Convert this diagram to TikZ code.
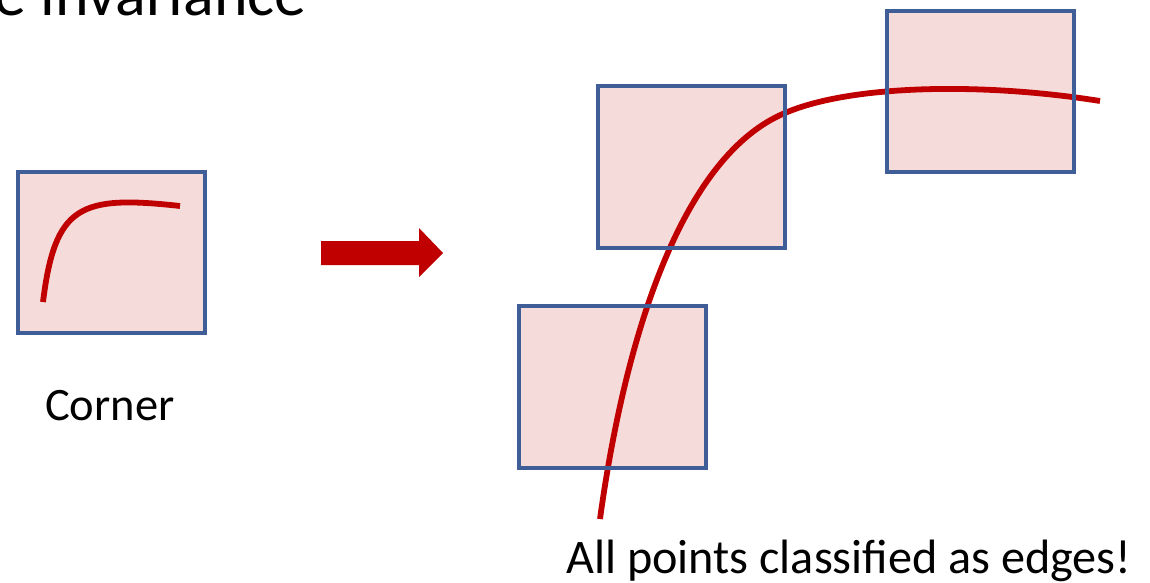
\documentclass[tikz,border=0pt]{standalone}
\usepackage{fontspec}
\setmainfont{Carlito}
\begin{document}
\begin{tikzpicture}[x=1pt,y=-1pt,
  winfill/.style={fill=winpink},
  winedge/.style={draw=winblue,line width=3.2pt},
  edgecurve/.style={draw=curvered,line width=5.8pt},
  txt/.style={inner sep=0pt,anchor=base west,text=black}]
\definecolor{winpink}{HTML}{F5DBDA}
\definecolor{winblue}{HTML}{3F5E98}
\definecolor{curvered}{HTML}{C00000}
\useasboundingbox (0,0) rectangle (1150,583);

% title, cut by the top edge
\node[inner sep=0pt,anchor=base east] (title) at (307,16)
  {\fontsize{64}{74}\selectfont Scale invariance};

% small window with the corner
\fill[winfill] (18,172) rectangle (205,333);
\draw[edgecurve] (43,302) .. controls (55,205) and (80,195) .. (180,206);
\draw[winedge] (18,172) rectangle (205,333);
\node[txt] (corner) at (45,420) {\fontsize{46.5}{55}\selectfont Corner};

% block arrow
\fill[curvered] (321,241) -- (419,241) -- (419,228) -- (443,253)
  -- (419,277) -- (419,265) -- (321,265) -- cycle;

% three windows on the magnified curve
\fill[winfill] (598,86) rectangle (785,248);
\fill[winfill] (887,11) rectangle (1074,172);
\fill[winfill] (519,306) rectangle (706,468);
\draw[edgecurve] (600,519) .. controls (626,330) and (684,155) .. (785,113)
  .. controls (850,85) and (980,82) .. (1100,101);
\draw[winedge] (598,86) rectangle (785,248);
\draw[winedge] (887,11) rectangle (1074,172);
\draw[winedge] (519,306) rectangle (706,468);

\node[txt] (caption) at (566,573)
  {\fontsize{48.2}{57}\selectfont All points classified as edges!};
\end{tikzpicture}
\end{document}
